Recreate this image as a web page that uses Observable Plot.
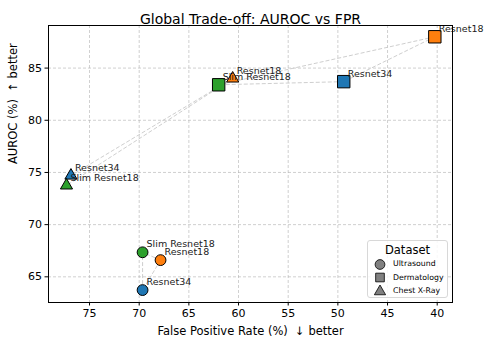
<!DOCTYPE html>
<html>
<head>
<meta charset="utf-8">
<script src="https://cdn.jsdelivr.net/npm/d3@7"></script>
<script src="https://cdn.jsdelivr.net/npm/@observablehq/plot@0.6"></script>
<style>
  html, body { margin: 0; padding: 0; background: #fff; }
  #wrap { position: relative; width: 491px; height: 348px; font-family: "DejaVu Sans", sans-serif; }
  #legend { position: absolute; left: 367px; top: 240px; width: 81px; height: 58px; box-sizing: border-box;
    border: 1px solid #d8d8d8; border-radius: 3px; background: rgba(255,255,255,0.85); }
  #legend .lt { text-align: center; font-size: 11.5px; color: #000; margin-top: 3px; line-height: 13px; }
  #legend .row { display: flex; align-items: center; height: 13.5px; font-size: 7.8px; color: #000; }
  #legend svg { margin-left: 6px; margin-right: 7px; }
</style>
</head>
<body>
<div id="wrap"></div>
<script>
const models = ["Resnet18", "Resnet34", "Slim Resnet18"];
const modelColors = ["#ff7f0e", "#1f77b4", "#2ca02c"];
const datasets = ["Ultrasound", "Dermatology", "Chest X-Ray"];
const datasetSymbols = ["circle", "square", "triangle"];
const datasetRadius = [5.4, 7, 4.5];

const ultrasoundFPR = [67.85, 69.66, 69.66];
const ultrasoundAUROC = [66.6, 63.73, 67.35];
const dermatologyFPR = [40.24, 49.41, 62.0];
const dermatologyAUROC = [88.0, 83.7, 83.4];
const chestFPR = [60.59, 76.87, 77.32];
const chestAUROC = [84.0, 74.7, 73.75];

const xTicks = [75, 70, 65, 60, 55, 50, 45, 40];
const yTicks = [65, 70, 75, 80, 85];

const fprByDataset = [ultrasoundFPR, dermatologyFPR, chestFPR];
const aurocByDataset = [ultrasoundAUROC, dermatologyAUROC, chestAUROC];

const points = [];
datasets.forEach((d, i) => {
  models.forEach((m, j) => {
    points.push({dataset: d, model: m, fpr: fprByDataset[i][j], auroc: aurocByDataset[i][j], di: i});
  });
});
const links = [];
datasets.forEach((d, i) => {
  const p = points.filter(q => q.dataset === d);
  for (let a = 0; a < p.length; a++)
    for (let b = a + 1; b < p.length; b++)
      links.push({x1: p[a].fpr, y1: p[a].auroc, x2: p[b].fpr, y2: p[b].auroc});
});

const dotMarks = datasets.map((d, i) => Plot.dot(points.filter(p => p.di === i), {
  x: "fpr", y: "auroc", symbol: () => datasetSymbols[i], r: datasetRadius[i],
  fill: "model", stroke: "#000", strokeWidth: 1
}));

const chart = Plot.plot({
  width: 491,
  height: 348,
  marginLeft: 48,
  marginRight: 39,
  marginTop: 25,
  marginBottom: 46,
  style: {fontFamily: "DejaVu Sans, sans-serif", fontSize: "10.5px", color: "#000", background: "#fff"},
  x: {domain: [79.13, 38.46], ticks: xTicks, tickSize: 3.5, label: null},
  y: {domain: [62.54, 89.08], ticks: yTicks, tickSize: 3.5, label: null},
  color: {domain: models, range: modelColors},
  symbol: {domain: datasetSymbols, range: datasetSymbols},
  marks: [
    Plot.gridX(xTicks, {stroke: "#b0b0b0", strokeOpacity: 0.75, strokeDasharray: "3,2", strokeWidth: 0.8}),
    Plot.gridY(yTicks, {stroke: "#b0b0b0", strokeOpacity: 0.75, strokeDasharray: "3,2", strokeWidth: 0.8}),
    Plot.link(links, {x1: "x1", y1: "y1", x2: "x2", y2: "y2", stroke: "#c8c8c8", strokeWidth: 0.9, strokeDasharray: "4,2"}),
    ...dotMarks,
    Plot.text(points, {x: "fpr", y: "auroc", text: "model", textAnchor: "start", dx: 4, dy: -8,
      fontSize: 9.5, fill: "#222", clip: false}),
    Plot.axisX(xTicks, {tickSize: 3.5, tickPadding: 3, fontSize: 11, label: null}),
    Plot.axisY(yTicks, {tickSize: 3.5, tickPadding: 3, fontSize: 11, label: null}),
    Plot.frame({stroke: "#000", strokeWidth: 1}),
    Plot.text(["Global Trade-off: AUROC vs FPR"], {frameAnchor: "top", dy: -11, fontSize: 14, fill: "#000"}),
    Plot.text(["False Positive Rate (%)  \u2193 better"], {frameAnchor: "bottom", dy: 32, fontSize: 11.5, fill: "#000"}),
    Plot.text(["AUROC (%)  \u2191 better"], {frameAnchor: "left", dx: -35, rotate: -90, fontSize: 11.5, fill: "#000"})
  ]
});
document.getElementById("wrap").appendChild(chart);

// legend
const leg = d3.select("#wrap").append("div").attr("id", "legend");
leg.append("div").attr("class", "lt").text("Dataset");
datasets.forEach((d, i) => {
  const row = leg.append("div").attr("class", "row");
  const s = row.append("svg").attr("width", 12).attr("height", 12);
  const sym = {circle: d3.symbolCircle, square: d3.symbolSquare, triangle: d3.symbolTriangle}[datasetSymbols[i]];
  s.append("path").attr("transform", "translate(6,6.5)")
    .attr("d", d3.symbol(sym, i === 2 ? 55 : 75)())
    .attr("fill", "#808080").attr("stroke", "#000").attr("stroke-width", 0.8);
  row.append("span").text(d);
});
</script>
</body>
</html>
